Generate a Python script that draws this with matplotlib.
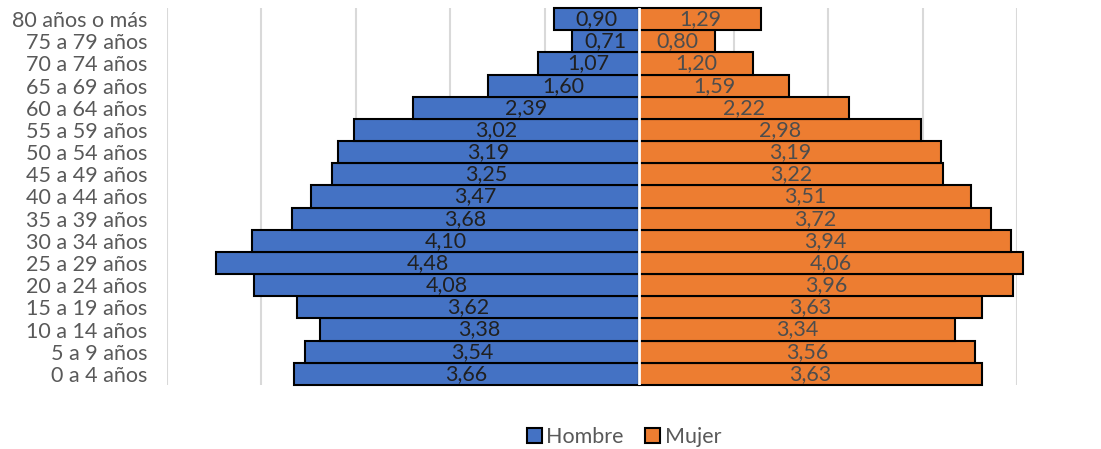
import matplotlib
matplotlib.use('Agg')
import matplotlib.pyplot as plt
from matplotlib.patches import Patch

# grupos de edad, de abajo hacia arriba
grupos = ['0 a 4 años', '5 a 9 años', '10 a 14 años', '15 a 19 años', '20 a 24 años',
          '25 a 29 años', '30 a 34 años', '35 a 39 años', '40 a 44 años', '45 a 49 años',
          '50 a 54 años', '55 a 59 años', '60 a 64 años', '65 a 69 años', '70 a 74 años',
          '75 a 79 años', '80 años o más']
hombre = [3.66, 3.54, 3.38, 3.62, 4.08, 4.48, 4.10, 3.68, 3.47, 3.25,
          3.19, 3.02, 2.39, 1.60, 1.07, 0.71, 0.90]
mujer = [3.63, 3.56, 3.34, 3.63, 3.96, 4.06, 3.94, 3.72, 3.51, 3.22,
         3.19, 2.98, 2.22, 1.59, 1.20, 0.80, 1.29]

azul = '#4472C4'
naranja = '#ED7D31'
fs = 15.5
plt.rcParams['font.family'] = ['Lato', 'DejaVu Sans']

fig = plt.figure(figsize=(11.01, 4.49), dpi=100)
ax = fig.add_axes([167/1101, 1-385/449, 850/1101, 377/449])

y = list(range(len(grupos)))
neg = [-v for v in hombre]
b1 = ax.barh(y, neg, height=1.0, color=azul, edgecolor='black', linewidth=1.5, zorder=2)
b2 = ax.barh(y, mujer, height=1.0, color=naranja, edgecolor='black', linewidth=1.5, zorder=2)
for p in list(b1) + list(b2):
    p.set_clip_on(False)
ax.axvline(0, color='white', lw=2, zorder=3)

for i in y:
    ax.text(-hombre[i]/2, i, ('%.2f' % hombre[i]).replace('.', ','), ha='center', va='center',
            fontsize=fs, color='#202020', zorder=4)
    ax.text(mujer[i]/2, i, ('%.2f' % mujer[i]).replace('.', ','), ha='center', va='center',
            fontsize=fs, color='#4d4d4d', zorder=4)

ax.set_xlim(-5, 4)
ax.set_ylim(-0.5, len(grupos)-0.5)
ax.set_xticks(range(-5, 5))
ax.set_xticklabels([])
ax.grid(axis='x', color='#d9d9d9', lw=1.5, zorder=0)
ax.set_yticks(y)
ax.set_yticklabels(grupos, fontsize=fs, color='#595959')
ax.tick_params(length=0, axis='y', pad=14)
ax.tick_params(length=0, axis='x')
for s in ax.spines.values():
    s.set_visible(False)

handles = [Patch(facecolor=azul, edgecolor='black', lw=1.5, label='Hombre'),
           Patch(facecolor=naranja, edgecolor='black', lw=1.5, label='Mujer')]
fig.legend(handles=handles, loc='center', bbox_to_anchor=(624/1101, 1-437/449), ncol=2,
           frameon=False, fontsize=fs, labelcolor='#595959', handlelength=0.7,
           handleheight=0.7, handletextpad=0.2, columnspacing=1.0)

fig.savefig('out.png', dpi=100)
